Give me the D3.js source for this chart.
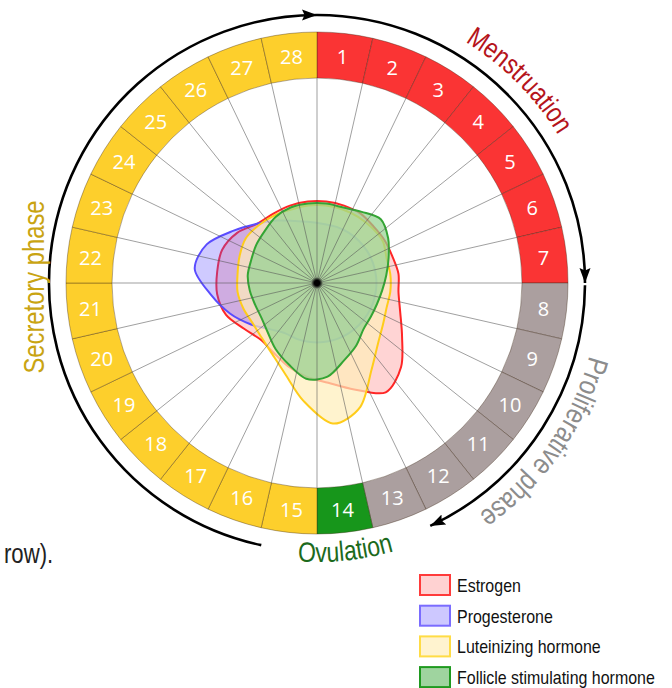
<!DOCTYPE html>
<html>
<head>
<meta charset="utf-8">
<script src="https://cdnjs.cloudflare.com/ajax/libs/d3/7.8.5/d3.min.js"></script>
<style>
  body { margin: 0; background: #fff; }
  svg { display: block; }
  .narrow { font-family: "Liberation Sans Narrow", "Arial Narrow", "Liberation Sans", Arial, sans-serif; }
  .daynum { font-family: "Open Sans", "Noto Sans", sans-serif; font-size: 20px; fill: #fff; }
</style>
</head>
<body>
<div class="chart"></div>
<script>
"use strict";

// cycle days and phases
var days = [1,2,3,4,5,6,7,8,9,10,11,12,13,14,15,16,17,18,19,20,21,22,23,24,25,26,27,28];
var phases = ["Menstruation", "Proliferative phase", "Ovulation", "Secretory phase"];
var phaseStart = [1, 8, 14, 15];
var phaseEnd = [7, 13, 14, 28];

// hormone levels per day (relative, 0-100)
var hormones = ["Estrogen", "Progesterone", "Luteinizing hormone", "Follicle stimulating hormone"];
var estrogen     = [40,40,40,39,39,39,40,40,43,49,58,63,55,49,46,43,40,39,42,47,49,49,49,46,41,40,40,40];
var progesterone = [29,29,29,29,29,29,29,29,29,29,29,29,29,29,29,29,29,32,38,45,52,60,57,48,41,36,32,30];
var lh           = [38,38,38,38,38,36,36,36,36,38,42,50,64,69,58,47,41,38,37,38,39,39,40,41,40,39,38,38];
var fsh          = [39,39,41,44,41,37,34,32,31,31,32,36,40,46,47,42,38,34,32,32,33,34,34,35,36,38,39,39];

var width = 672, height = 688;
var cx = 317, cy = 283;
var innerR = 205, outerR = 251, arrowR = 268;

var phaseColor = ["#fa3434", "#ab9f9f", "#17961b", "#fdcf2c"];
var labelColor = ["#b5141b", "#8c8c8c", "#1c6a1c", "#c9a412"];
var hormoneFill = ["rgba(255,60,60,0.22)", "rgba(95,80,255,0.3)", "rgba(255,238,185,0.7)", "rgba(150,210,145,0.72)"];
var hormoneStroke = ["#ff2626", "#5a4cff", "#ffcc1a", "#34a534"];
var legendFill = ["#ffd2d2", "#cdc8ff", "#fff3cf", "#9fd49f"];
var legendStroke = ["#ff3b3b", "#7a6cff", "#ffdc45", "#1f9a1f"];

function phaseIndex(d) {
  for (var i = 0; i < phases.length; i++) {
    if (d >= phaseStart[i] && d <= phaseEnd[i]) return i;
  }
  return 0;
}

// squeeze a text to look like a narrow face
function condense(sel, k) {
  sel.each(function(){
    var w = this.getComputedTextLength();
    d3.select(this).attr('textLength', w * k).attr('lengthAdjust', 'spacingAndGlyphs');
  });
}

var svg = d3.select('.chart')
    .append('svg')
    .attr('width', width)
    .attr('height', height);
var defs = svg.append('defs');

var g = svg.append('g').attr('transform', 'translate(' + cx + ',' + cy + ')');

var angle = d3.scaleBand().domain(days).range([0, 2 * Math.PI]).padding(0);
var radius = d3.scaleLinear().domain([0, 100]).range([0, innerR]);

// ring of days
var arc = d3.arc()
    .innerRadius(innerR)
    .outerRadius(outerR)
    .startAngle(function(d){ return angle(d); })
    .endAngle(function(d){ return angle(d) + angle.bandwidth(); });

g.append('g').attr('class', 'ring')
  .selectAll('path')
  .data(days)
  .enter().append('path')
  .attr('d', arc)
  .attr('fill', function(d){ return phaseColor[phaseIndex(d)]; })
  .attr('stroke', 'rgba(60,40,20,0.55)')
  .attr('stroke-width', 0.7);

g.append('g').attr('class', 'daynums')
  .selectAll('text')
  .data(days)
  .enter().append('text')
  .attr('class', 'daynum')
  .attr('text-anchor', 'middle')
  .attr('dy', '0.36em')
  .attr('transform', function(d){
    var c = arc.centroid(d);
    return 'translate(' + c[0] + ',' + c[1] + ')';
  })
  .text(function(d){ return d; });

// hormone shapes
var series = [estrogen, progesterone, lh, fsh];
var line = d3.lineRadial()
    .angle(function(v, i){ return angle(days[i]) + angle.bandwidth() / 2; })
    .radius(function(v){ return radius(v); })
    .curve(d3.curveCardinalClosed.tension(0.1));

g.append('g').attr('class', 'shapes')
  .selectAll('path')
  .data(series)
  .enter().append('path')
  .attr('d', line)
  .attr('fill', function(d, i){ return hormoneFill[i]; })
  .attr('stroke', function(d, i){ return hormoneStroke[i]; })
  .attr('stroke-width', 2)
  .attr('stroke-linejoin', 'round');

// spokes
g.append('g').attr('class', 'spokes')
  .selectAll('line')
  .data(days)
  .enter().append('line')
  .attr('x1', 0).attr('y1', 0)
  .attr('x2', function(d){ return innerR * Math.sin(angle(d)); })
  .attr('y2', function(d){ return -innerR * Math.cos(angle(d)); })
  .attr('stroke', '#555')
  .attr('stroke-opacity', 0.7)
  .attr('stroke-width', 0.8);

var grad = defs.append('radialGradient').attr('id', 'hub');
grad.append('stop').attr('offset', '0%').attr('stop-color', '#000');
grad.append('stop').attr('offset', '45%').attr('stop-color', '#000');
grad.append('stop').attr('offset', '100%').attr('stop-color', '#000').attr('stop-opacity', 0);
g.append('circle').attr('r', 6).attr('fill', 'url(#hub)');

// arrows round the ring
defs.append('marker')
    .attr('id', 'head')
    .attr('markerUnits', 'userSpaceOnUse')
    .attr('viewBox', '0 -7 16 14')
    .attr('refX', 15).attr('refY', 0)
    .attr('markerWidth', 16).attr('markerHeight', 14)
    .attr('orient', 'auto')
  .append('path')
    .attr('d', 'M0,-5.5L15,0L0,5.5L2.5,0Z')
    .attr('fill', '#000');

function arcPath(r, a0, a1, ccw) {
  // angles in degrees, clockwise from 12 o'clock
  var p = d3.path();
  p.arc(0, 0, r, (a0 - 90) * Math.PI / 180, (a1 - 90) * Math.PI / 180, ccw);
  return p.toString();
}

var arrowSpans = [[0, 90], [90.5, 155], [192, 360]];
g.append('g').attr('class', 'arrows')
  .selectAll('path')
  .data(arrowSpans)
  .enter().append('path')
  .attr('d', function(d){ return arcPath(arrowR, d[0], d[1], false); })
  .attr('fill', 'none')
  .attr('stroke', '#000')
  .attr('stroke-width', 2.6)
  .attr('marker-end', 'url(#head)');

// phase labels
var labelPaths = [
  {id: 'lab0', d: arcPath(283, 0, 90, false)},
  {id: 'lab1', d: arcPath(282, 94, 156, false)},
  {id: 'lab2', d: arcPath(279, 199, 149, true)}
];
defs.selectAll('path.lab')
  .data(labelPaths)
  .enter().append('path')
  .attr('class', 'lab')
  .attr('id', function(d){ return d.id; })
  .attr('transform', 'translate(' + cx + ',' + cy + ')')
  .attr('d', function(d){ return d.d; });

[0, 1, 2].forEach(function(i){
  var tp = svg.append('text')
    .attr('class', 'narrow')
    .attr('font-size', i === 1 ? 29 : 28)
    .attr('fill', labelColor[i])
    .append('textPath')
    .attr('href', '#lab' + i)
    .attr('startOffset', '50%')
    .attr('text-anchor', 'middle')
    .text(phases[i]);
  condense(tp, 0.82);
});

svg.append('text')
  .attr('class', 'narrow')
  .attr('font-size', 29)
  .attr('fill', labelColor[3])
  .attr('text-anchor', 'middle')
  .attr('transform', 'translate(44,287) rotate(-90)')
  .text(phases[3])
  .call(condense, 0.82);

// stray caption fragment on the left
svg.append('text')
  .attr('class', 'narrow')
  .attr('x', 4).attr('y', 563)
  .attr('font-size', 27)
  .attr('fill', '#222')
  .text('row).')
  .call(condense, 0.82);

// legend
var legend = svg.append('g').attr('class', 'legend')
  .attr('transform', 'translate(420,575)');
var item = legend.selectAll('g')
  .data(hormones)
  .enter().append('g')
  .attr('transform', function(d, i){ return 'translate(0,' + (i * 30.7) + ')'; });
item.append('rect')
  .attr('width', 30).attr('height', 20)
  .attr('fill', function(d, i){ return legendFill[i]; })
  .attr('stroke', function(d, i){ return legendStroke[i]; })
  .attr('stroke-width', 2);
item.append('text')
  .attr('class', 'narrow')
  .attr('x', 37).attr('y', 17)
  .attr('font-size', 19)
  .attr('fill', '#111')
  .text(function(d){ return d; })
  .call(condense, 0.84);
</script>
</body>
</html>
